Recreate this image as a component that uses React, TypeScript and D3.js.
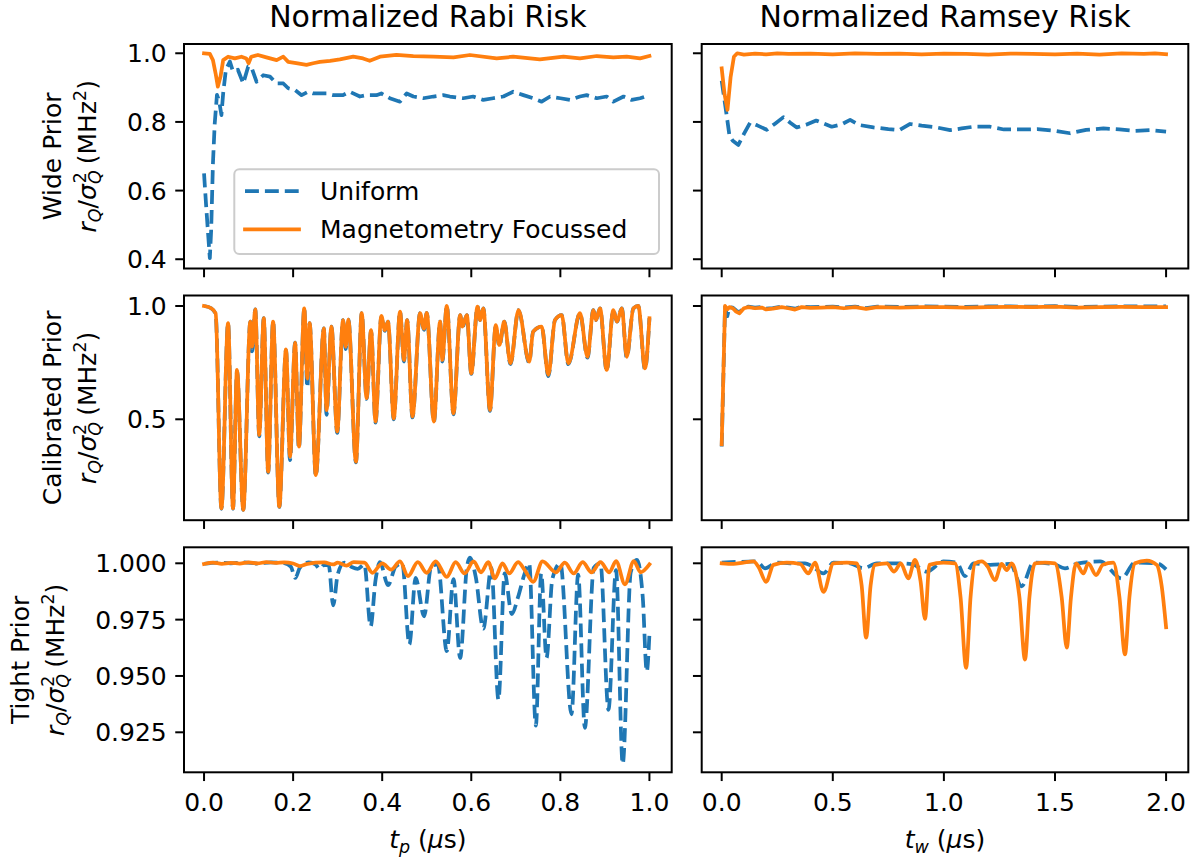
import React from 'react';
import * as d3 from 'd3';

// ---------------- Data ----------------
// Row 1: Wide prior, Rabi (t_p in µs)
const wideRabiUniT = [0, 0.005, 0.013, 0.016, 0.02, 0.024, 0.029, 0.034, 0.039, 0.043, 0.049, 0.058, 0.065, 0.076, 0.088, 0.099, 0.106, 0.118, 0.133, 0.148, 0.163, 0.178, 0.189, 0.204, 0.219, 0.234, 0.245, 0.275, 0.29, 0.312, 0.327, 0.35, 0.365, 0.387, 0.398, 0.417, 0.44, 0.455, 0.47, 0.492, 0.515, 0.537, 0.552, 0.582, 0.604, 0.627, 0.649, 0.672, 0.694, 0.717, 0.739, 0.758, 0.777, 0.8, 0.822, 0.844, 0.859, 0.882, 0.904, 0.919, 0.942, 0.96, 0.979, 1.0];
const wideRabiUniV = [0.65, 0.55, 0.403, 0.485, 0.68, 0.796, 0.879, 0.86, 0.82, 0.884, 0.952, 0.976, 0.947, 0.952, 0.912, 0.961, 0.961, 0.917, 0.936, 0.932, 0.912, 0.912, 0.898, 0.893, 0.878, 0.888, 0.883, 0.883, 0.878, 0.878, 0.888, 0.874, 0.878, 0.878, 0.883, 0.869, 0.859, 0.883, 0.874, 0.869, 0.874, 0.878, 0.874, 0.869, 0.874, 0.864, 0.869, 0.874, 0.888, 0.878, 0.869, 0.859, 0.874, 0.869, 0.864, 0.874, 0.878, 0.869, 0.874, 0.859, 0.874, 0.864, 0.869, 0.878];
const wideRabiMagT = [0, 0.013, 0.02, 0.026, 0.031, 0.037, 0.043, 0.054, 0.069, 0.084, 0.095, 0.1, 0.106, 0.121, 0.14, 0.163, 0.178, 0.189, 0.207, 0.23, 0.245, 0.26, 0.283, 0.305, 0.335, 0.357, 0.372, 0.395, 0.432, 0.47, 0.515, 0.56, 0.597, 0.657, 0.694, 0.754, 0.807, 0.844, 0.882, 0.919, 0.949, 0.979, 1.0];
const wideRabiMagV = [1.0, 0.998, 0.98, 0.941, 0.903, 0.932, 0.98, 0.99, 0.985, 0.99, 0.985, 0.971, 0.99, 0.995, 0.988, 0.98, 0.99, 0.975, 0.971, 0.966, 0.971, 0.975, 0.978, 0.982, 0.99, 0.985, 0.978, 0.99, 0.995, 0.992, 0.99, 0.988, 0.995, 0.985, 0.99, 0.982, 0.99, 0.985, 0.992, 0.988, 0.99, 0.985, 0.992];

// Row 1: Wide prior, Ramsey (t_w in µs)
const wideRamseyUniT = [0, 0.02, 0.035, 0.05, 0.075, 0.1, 0.128, 0.16, 0.203, 0.24, 0.278, 0.31, 0.338, 0.38, 0.425, 0.46, 0.495, 0.54, 0.578, 0.62, 0.683, 0.75, 0.8, 0.848, 0.9, 0.96, 1.028, 1.08, 1.133, 1.208, 1.27, 1.35, 1.42, 1.5, 1.568, 1.64, 1.718, 1.79, 1.86, 1.93, 2.0];
const wideRamseyUniV = [0.92, 0.83, 0.76, 0.745, 0.733, 0.765, 0.798, 0.79, 0.777, 0.795, 0.814, 0.797, 0.784, 0.792, 0.804, 0.795, 0.786, 0.793, 0.806, 0.791, 0.784, 0.779, 0.776, 0.794, 0.789, 0.785, 0.776, 0.781, 0.786, 0.786, 0.778, 0.778, 0.779, 0.774, 0.767, 0.777, 0.781, 0.778, 0.774, 0.776, 0.772];
const wideRamseyMagT = [0, 0.013, 0.026, 0.04, 0.055, 0.07, 0.1, 0.15, 0.2, 0.25, 0.3, 0.4, 0.5, 0.6, 0.7, 0.8, 0.9, 1.0, 1.1, 1.2, 1.3, 1.4, 1.5, 1.6, 1.7, 1.8, 1.9, 1.95, 2.0];
const wideRamseyMagV = [0.956, 0.88, 0.835, 0.93, 0.99, 1.0, 0.996, 0.999, 0.997, 1.0, 0.998, 0.999, 0.997, 1.0, 0.998, 0.999, 0.997, 0.999, 0.998, 0.996, 0.999, 0.998, 0.997, 0.999, 0.996, 1.0, 0.998, 1.0, 0.997];

// Row 2: Calibrated prior, Rabi
const calRabiT = [0, 0.016, 0.026, 0.039, 0.054, 0.065, 0.074, 0.088, 0.104, 0.108, 0.115, 0.124, 0.134, 0.144, 0.155, 0.169, 0.184, 0.193, 0.2045, 0.213, 0.225, 0.232, 0.237, 0.251, 0.269, 0.275, 0.286, 0.299, 0.312, 0.318, 0.324, 0.341, 0.354, 0.365, 0.375, 0.385, 0.398, 0.406, 0.413, 0.426, 0.44, 0.449, 0.456, 0.468, 0.485, 0.494, 0.5, 0.516, 0.53, 0.535, 0.545, 0.56, 0.575, 0.58, 0.59, 0.6, 0.614, 0.62, 0.627, 0.642, 0.655, 0.663, 0.674, 0.688, 0.706, 0.73, 0.739, 0.758, 0.773, 0.788, 0.803, 0.818, 0.844, 0.861, 0.874, 0.88, 0.889, 0.904, 0.919, 0.927, 0.938, 0.949, 0.964, 0.975, 0.99, 1.0];
const calRabiUniV = [1.0, 0.99, 0.965, 0.105, 0.924, 0.105, 0.712, 0.10, 0.931, 0.80, 0.985, 0.425, 0.946, 0.265, 0.931, 0.113, 0.805, 0.32, 0.838, 0.372, 0.99, 0.64, 0.924, 0.25, 0.901, 0.52, 0.909, 0.44, 0.938, 0.81, 0.94, 0.31, 0.968, 0.59, 0.89, 0.485, 0.95, 0.89, 0.931, 0.5, 0.975, 0.755, 0.938, 0.508, 0.968, 0.895, 0.97, 0.487, 0.931, 0.755, 1.0, 0.522, 0.96, 0.905, 0.96, 0.7, 0.997, 0.938, 0.99, 0.537, 0.912, 0.822, 0.931, 0.743, 0.982, 0.75, 0.887, 0.909, 0.69, 0.938, 0.96, 0.743, 0.968, 0.772, 0.982, 0.938, 0.99, 0.714, 0.982, 0.931, 0.99, 0.772, 0.99, 1.0, 0.72, 0.946];
const calRabiMagV = [1.0, 0.99, 0.968, 0.107, 0.924, 0.107, 0.718, 0.10, 0.931, 0.82, 0.985, 0.431, 0.946, 0.269, 0.931, 0.115, 0.809, 0.335, 0.838, 0.379, 0.99, 0.68, 0.924, 0.254, 0.901, 0.54, 0.909, 0.446, 0.938, 0.82, 0.94, 0.313, 0.968, 0.593, 0.894, 0.49, 0.956, 0.894, 0.931, 0.504, 0.975, 0.762, 0.938, 0.512, 0.968, 0.9, 0.97, 0.49, 0.931, 0.762, 1.0, 0.526, 0.96, 0.909, 0.96, 0.703, 0.997, 0.938, 0.99, 0.541, 0.916, 0.828, 0.931, 0.747, 0.982, 0.754, 0.887, 0.909, 0.696, 0.938, 0.96, 0.747, 0.968, 0.776, 0.982, 0.938, 0.99, 0.718, 0.982, 0.931, 0.99, 0.776, 0.99, 1.0, 0.725, 0.946];

// Row 2: Calibrated prior, Ramsey
const calRamseyT = [0, 0.015, 0.025, 0.035, 0.05, 0.065, 0.08, 0.1, 0.12, 0.15, 0.18, 0.2, 0.23, 0.27, 0.3, 0.33, 0.36, 0.4, 0.45, 0.5, 0.55, 0.6, 0.65, 0.7, 0.8, 0.9, 1.0, 1.1, 1.2, 1.3, 1.4, 1.5, 1.6, 1.7, 1.8, 1.9, 2.0];
const calRamseyUniV = [0.38, 0.995, 0.955, 0.995, 0.993, 0.98, 0.972, 0.993, 0.997, 0.993, 0.996, 0.988, 0.991, 0.997, 0.993, 0.988, 0.997, 0.995, 0.996, 0.997, 0.994, 0.997, 0.991, 0.997, 0.996, 0.998, 0.997, 0.996, 0.998, 0.998, 0.997, 0.999, 0.996, 0.997, 0.998, 0.998, 0.998];
const calRamseyMagV = [0.39, 1.0, 0.985, 0.995, 0.99, 0.975, 0.968, 0.99, 0.995, 0.99, 0.993, 0.985, 0.988, 0.995, 0.99, 0.984, 0.995, 0.992, 0.993, 0.995, 0.99, 0.995, 0.987, 0.995, 0.993, 0.995, 0.995, 0.993, 0.995, 0.996, 0.995, 0.997, 0.993, 0.995, 0.996, 0.995, 0.995];

// Row 3: Tight prior, Rabi
const tightRabiUniT = [0, 0.03, 0.06, 0.09, 0.12, 0.15, 0.18, 0.195, 0.205, 0.215, 0.235, 0.25, 0.26, 0.27, 0.28, 0.29, 0.3, 0.315, 0.33, 0.345, 0.36, 0.374, 0.385, 0.395, 0.413, 0.43, 0.445, 0.461, 0.475, 0.494, 0.51, 0.525, 0.545, 0.56, 0.575, 0.59, 0.597, 0.61, 0.627, 0.645, 0.661, 0.675, 0.691, 0.705, 0.72, 0.73, 0.745, 0.757, 0.769, 0.782, 0.8, 0.825, 0.84, 0.855, 0.875, 0.89, 0.908, 0.925, 0.94, 0.958, 0.972, 0.985, 0.994, 1.0];
const tightRabiUniV = [0.9998, 1.0003, 1.0, 1.0004, 0.9999, 1.0004, 1.0001, 0.9985, 0.9935, 0.998, 1.0004, 0.9995, 0.9975, 0.9993, 0.999, 0.9813, 0.995, 1.0003, 0.9985, 0.9975, 0.9995, 0.972, 0.9925, 1.0005, 0.9903, 0.9985, 1.0, 0.964, 0.9935, 0.9765, 0.9985, 0.9995, 0.961, 0.993, 0.958, 0.998, 1.0025, 0.994, 0.971, 0.998, 0.9395, 0.9955, 0.9775, 0.985, 0.9955, 1.0, 0.928, 0.9955, 0.958, 0.993, 1.0, 0.933, 0.995, 0.927, 0.998, 1.0, 0.935, 0.997, 0.911, 0.996, 1.0015, 0.985, 0.952, 0.9686];
const tightRabiMagT = [0, 0.02, 0.04, 0.06, 0.08, 0.1, 0.12, 0.14, 0.16, 0.18, 0.2, 0.215, 0.23, 0.25, 0.27, 0.29, 0.3, 0.32, 0.336, 0.36, 0.378, 0.4, 0.42, 0.44, 0.458, 0.48, 0.5, 0.52, 0.545, 0.565, 0.585, 0.605, 0.622, 0.638, 0.653, 0.67, 0.685, 0.705, 0.72, 0.739, 0.76, 0.79, 0.81, 0.83, 0.85, 0.87, 0.89, 0.91, 0.925, 0.945, 0.965, 0.98, 1.0];
const tightRabiMagV = [0.9997, 1.0003, 0.9998, 1.0002, 0.9999, 1.0004, 1.0, 1.0005, 1.0002, 1.0004, 0.9999, 0.9988, 0.9996, 1.0003, 1.0004, 0.9995, 1.0003, 0.999, 1.0005, 1.0003, 0.9958, 1.0, 0.9972, 1.0008, 0.9943, 1.0005, 0.9958, 1.0008, 0.994, 1.0005, 0.9955, 1.0008, 0.996, 1.0005, 0.9933, 1.0, 0.9955, 1.0005, 0.997, 0.9918, 1.0008, 0.996, 1.0003, 0.9955, 1.0005, 0.996, 1.0005, 0.996, 1.001, 0.9907, 1.001, 0.996, 0.9995];

// Row 3: Tight prior, Ramsey
const tightRamseyUniT = [0, 0.158, 0.195, 0.248, 0.308, 0.375, 0.405, 0.458, 0.503, 0.578, 0.638, 0.698, 0.788, 0.86, 0.923, 0.998, 1.058, 1.095, 1.133, 1.208, 1.298, 1.35, 1.403, 1.493, 1.545, 1.605, 1.703, 1.8, 1.86, 1.958, 2.0];
const tightRamseyUniV = [1.0003, 1.0008, 0.9978, 1.0003, 1.0, 1.0, 0.9988, 0.9955, 1.0003, 1.0, 0.9978, 1.0, 1.0, 0.9995, 0.9963, 1.0008, 1.0003, 0.9943, 1.0, 0.9993, 0.9997, 0.9898, 1.0003, 0.9997, 0.9978, 1.0, 1.0008, 0.9933, 1.0003, 1.0, 0.9973];
const tightRamseyMagT = [0, 0.053, 0.098, 0.143, 0.165, 0.2, 0.233, 0.293, 0.353, 0.39, 0.42, 0.458, 0.503, 0.563, 0.608, 0.63, 0.65, 0.67, 0.69, 0.743, 0.776, 0.806, 0.84, 0.87, 0.895, 0.915, 0.935, 0.998, 1.05, 1.075, 1.1, 1.12, 1.14, 1.17, 1.197, 1.23, 1.26, 1.283, 1.305, 1.34, 1.365, 1.385, 1.41, 1.455, 1.5, 1.53, 1.553, 1.572, 1.595, 1.628, 1.65, 1.685, 1.715, 1.763, 1.79, 1.815, 1.835, 1.86, 1.913, 1.958, 1.98, 2.0];
const tightRamseyMagV = [1.0, 0.9997, 1.0003, 1.0008, 0.9985, 0.9918, 0.9993, 1.0003, 0.9997, 0.9955, 1.0003, 0.9873, 1.0, 1.0003, 1.0, 0.99, 0.967, 0.99, 0.9993, 1.0, 0.9963, 1.0, 0.9933, 1.0015, 0.992, 0.9753, 0.9993, 1.0003, 1.0, 0.985, 0.9536, 0.985, 1.0, 1.0008, 0.9985, 0.9925, 0.9997, 0.997, 1.0, 0.985, 0.9573, 0.985, 1.0, 1.0003, 1.0, 0.985, 0.9626, 0.985, 1.0, 0.9955, 1.0, 0.9948, 0.9993, 1.0003, 0.985, 0.9596, 0.985, 1.0, 1.0012, 0.9993, 0.99, 0.9716];

// Axis ticks / labels
const rabiTicks = [0, 0.2, 0.4, 0.6, 0.8, 1.0];
const ramseyTicks = [0, 0.5, 1.0, 1.5, 2.0];
const wideTicks = [0.4, 0.6, 0.8, 1.0];
const calTicks = [0.5, 1.0];
const tightTicks = [0.925, 0.95, 0.975, 1.0];
const colTitles = ['Normalized Rabi Risk', 'Normalized Ramsey Risk'];
const rowNames = ['Wide Prior', 'Calibrated Prior', 'Tight Prior'];
const seriesNames = ['Uniform', 'Magnetometry Focussed'];

// ---------------- Styling / layout ----------------
const FONT = '"DejaVu Sans", Verdana, sans-serif';
const BLUE = '#1f77b4';
const ORANGE = '#ff7f0e';
const LW = 3.75;
const DASH = '13.9 6';
const TICK = 8.75;

const COLS = [
  { x0: 184, x1: 671.7, domain: [-0.045, 1.05], ticks: rabiTicks },
  { x0: 701.7, x1: 1188.3, domain: [-0.09, 2.1], ticks: ramseyTicks },
];
const ROWS = [
  { y0: 44, y1: 268.5, domain: [0.373, 1.027], ticks: wideTicks, fmt: d3.format('.1f'), labX: [61, 96] },
  { y0: 295.5, y1: 520.2, domain: [0.0547, 1.0463], ticks: calTicks, fmt: d3.format('.1f'), labX: [61, 96] },
  { y0: 547.3, y1: 772.3, domain: [0.90725, 1.0071], ticks: tightTicks, fmt: d3.format('.3f'), labX: [29, 64] },
];

type Series = { t: number[]; v: number[]; color: string; dashed: boolean };
const zip = (t: number[], v: number[]) => t.map((x, i) => [x, v[i]] as [number, number]);

const PANELS: { r: number; c: number; series: Series[]; smooth: boolean }[] = [
  { r: 0, c: 0, smooth: false, series: [
    { t: wideRabiUniT, v: wideRabiUniV, color: BLUE, dashed: true },
    { t: wideRabiMagT, v: wideRabiMagV, color: ORANGE, dashed: false }] },
  { r: 0, c: 1, smooth: false, series: [
    { t: wideRamseyUniT, v: wideRamseyUniV, color: BLUE, dashed: true },
    { t: wideRamseyMagT, v: wideRamseyMagV, color: ORANGE, dashed: false }] },
  { r: 1, c: 0, smooth: true, series: [
    { t: calRabiT, v: calRabiUniV, color: BLUE, dashed: true },
    { t: calRabiT, v: calRabiMagV, color: ORANGE, dashed: false }] },
  { r: 1, c: 1, smooth: false, series: [
    { t: calRamseyT, v: calRamseyUniV, color: BLUE, dashed: true },
    { t: calRamseyT, v: calRamseyMagV, color: ORANGE, dashed: false }] },
  { r: 2, c: 0, smooth: true, series: [
    { t: tightRabiUniT, v: tightRabiUniV, color: BLUE, dashed: true },
    { t: tightRabiMagT, v: tightRabiMagV, color: ORANGE, dashed: false }] },
  { r: 2, c: 1, smooth: true, series: [
    { t: tightRamseyUniT, v: tightRamseyUniV, color: BLUE, dashed: true },
    { t: tightRamseyMagT, v: tightRamseyMagV, color: ORANGE, dashed: false }] },
];

const fmtX = d3.format('.1f');

function YLabel({ x1, x2, cy, name }: { x1: number; x2: number; cy: number; name: string }) {
  return (
    <g fontFamily={FONT} fontSize={25} fill="#000">
      <text transform={`translate(${x1},${cy}) rotate(-90)`} textAnchor="middle">{name}</text>
      <text transform={`translate(${x2},${cy}) rotate(-90)`} textAnchor="middle" style={{ whiteSpace: 'pre' }}>
        <tspan fontStyle="italic">r</tspan>
        <tspan fontStyle="italic" fontSize={17.5} dy={5}>Q</tspan>
        <tspan dy={-5}>/</tspan>
        <tspan fontStyle="italic">σ</tspan>
        <tspan fontStyle="italic" fontSize={17.5} dy={5}>Q</tspan>
        <tspan fontSize={17.5} dx={-13} dy={-15}>2</tspan>
        <tspan dy={10}>{' (MHz'}</tspan>
        <tspan fontSize={17.5} dy={-10}>2</tspan>
        <tspan dy={10}>)</tspan>
      </text>
    </g>
  );
}

function XLabel({ cx, y, sub }: { cx: number; y: number; sub: string }) {
  return (
    <text x={cx} y={y} textAnchor="middle" fontFamily={FONT} fontSize={25} style={{ whiteSpace: 'pre' }}>
      <tspan fontStyle="italic">t</tspan>
      <tspan fontStyle="italic" fontSize={17.5} dy={5}>{sub}</tspan>
      <tspan dy={-5}>{' ('}</tspan>
      <tspan fontStyle="italic">μ</tspan>
      <tspan>s)</tspan>
    </text>
  );
}

export default function App() {
  return (
    <svg width={1197} height={861} viewBox="0 0 1197 861"
      style={{ position: 'absolute', left: 0, top: 0, background: '#fff' }}>
      <rect x={0} y={0} width={1197} height={861} fill="#fff" />
      <defs>
        {PANELS.map((p) => {
          const C = COLS[p.c], R = ROWS[p.r];
          return (
            <clipPath id={`clip-${p.r}-${p.c}`} key={`c${p.r}${p.c}`}>
              <rect x={C.x0} y={R.y0} width={C.x1 - C.x0} height={R.y1 - R.y0} />
            </clipPath>
          );
        })}
      </defs>

      {PANELS.map((p) => {
        const C = COLS[p.c], R = ROWS[p.r];
        const x = d3.scaleLinear().domain(C.domain).range([C.x0, C.x1]);
        const y = d3.scaleLinear().domain(R.domain).range([R.y1, R.y0]);
        const line = d3.line<[number, number]>()
          .x((d) => x(d[0]))
          .y((d) => y(d[1]))
          .curve(p.smooth ? d3.curveMonotoneX : d3.curveLinear);
        return (
          <g key={`p${p.r}${p.c}`}>
            <g clipPath={`url(#clip-${p.r}-${p.c})`}>
              {p.series.map((s, i) => (
                <path key={i} d={line(zip(s.t, s.v)) || ''} fill="none" stroke={s.color}
                  strokeWidth={LW} strokeDasharray={s.dashed ? DASH : undefined}
                  strokeLinejoin="round" strokeLinecap={s.dashed ? 'butt' : 'square'} />
              ))}
            </g>
            <rect x={C.x0} y={R.y0} width={C.x1 - C.x0} height={R.y1 - R.y0}
              fill="none" stroke="#000" strokeWidth={2} />
            {R.ticks.map((tv) => (
              <g key={`yt${tv}`}>
                <line x1={C.x0 - TICK} x2={C.x0} y1={y(tv)} y2={y(tv)} stroke="#000" strokeWidth={2} />
                {p.c === 0 && (
                  <text x={C.x0 - TICK - 8.5} y={y(tv) + 9} textAnchor="end"
                    fontFamily={FONT} fontSize={25}>{R.fmt(tv)}</text>
                )}
              </g>
            ))}
            {C.ticks.map((tv) => (
              <g key={`xt${tv}`}>
                <line x1={x(tv)} x2={x(tv)} y1={R.y1} y2={R.y1 + TICK} stroke="#000" strokeWidth={2} />
                {p.r === 2 && (
                  <text x={x(tv)} y={811} textAnchor="middle" fontFamily={FONT} fontSize={25}>{fmtX(tv)}</text>
                )}
              </g>
            ))}
          </g>
        );
      })}

      {COLS.map((C, i) => (
        <text key={`title${i}`} x={(C.x0 + C.x1) / 2} y={27} textAnchor="middle"
          fontFamily={FONT} fontSize={30}>{colTitles[i]}</text>
      ))}

      {ROWS.map((R, i) => (
        <YLabel key={`yl${i}`} x1={R.labX[0]} x2={R.labX[1]} cy={(R.y0 + R.y1) / 2} name={rowNames[i]} />
      ))}

      <XLabel cx={(COLS[0].x0 + COLS[0].x1) / 2} y={848} sub="p" />
      <XLabel cx={(COLS[1].x0 + COLS[1].x1) / 2} y={848} sub="w" />

      {/* Legend */}
      <g>
        <rect x={234.3} y={169.3} width={424.7} height={84.7} rx={5} ry={5}
          fill="#fff" fillOpacity={0.8} stroke="#cccccc" strokeWidth={2} />
        <line x1={245} x2={299} y1={191} y2={191} stroke={BLUE} strokeWidth={LW} strokeDasharray={DASH} />
        <line x1={245} x2={299} y1={229.3} y2={229.3} stroke={ORANGE} strokeWidth={LW} strokeLinecap="square" />
        <text x={320} y={200} fontFamily={FONT} fontSize={25}>{seriesNames[0]}</text>
        <text x={320} y={238.3} fontFamily={FONT} fontSize={25}>{seriesNames[1]}</text>
      </g>
    </svg>
  );
}
